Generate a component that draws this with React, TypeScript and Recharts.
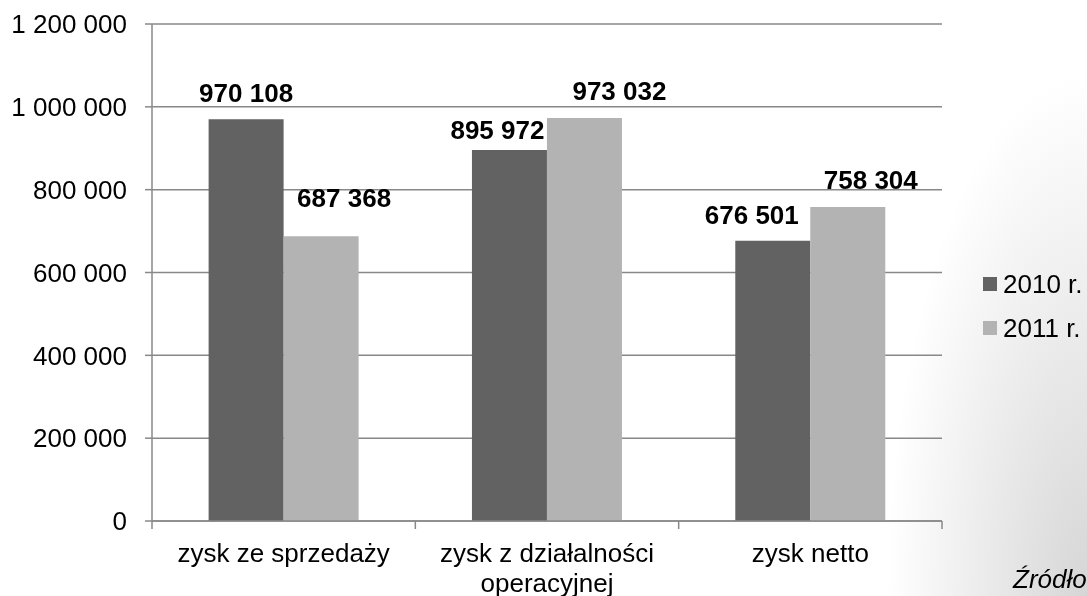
import React from 'react';
import { BarChart, Bar, XAxis, YAxis, CartesianGrid, Legend, LabelList } from 'recharts';

const categories = ['zysk ze sprzedaży', 'zysk z działalności operacyjnej', 'zysk netto'];
const values2010 = [970108, 895972, 676501];
const values2011 = [687368, 973032, 758304];
const seriesNames = ['2010 r.', '2011 r.'];
const yTicks = [0, 200000, 400000, 600000, 800000, 1000000, 1200000];
const sourceLabel = 'Źródło';

const data = categories.map((c, i) => ({ name: c, v2010: values2010[i], v2011: values2011[i] }));

const W = 1087;
const H = 596;
const MARGIN = { top: 24, right: 145, bottom: 0, left: 0 };
const Y_AXIS_W = 152;
const X_AXIS_H = 75;
const PLOT_W = W - MARGIN.right - Y_AXIS_W;
const BAND = PLOT_W / categories.length;
const AXIS_Y = H - X_AXIS_H;
const FONT = '"Liberation Sans", Arial, sans-serif';
const GRID = '#888888';
const COLORS = ['#626262', '#b3b3b3'];
const X_FONT_SIZE = 26;
const X_WRAP_W = 240;

// style-only label nudges (relative to bar centre / top) to match the reference placement
const LABEL_STYLE: Record<string, { dx: number[]; gap: number[] }> = {
  v2010: { dx: [0, -12, -21], gap: [17, 11, 17] },
  v2011: { dx: [23, 35, 23], gap: [29, 18, 18] },
};

const fmt = (v: number) => String(v).replace(/\B(?=(\d{3})+(?!\d))/g, ' ');

let ctx: CanvasRenderingContext2D | null = null;
const measure = (s: string) => {
  if (!ctx && typeof document !== 'undefined') {
    ctx = document.createElement('canvas').getContext('2d');
  }
  if (!ctx) return s.length * X_FONT_SIZE * 0.5;
  ctx.font = `${X_FONT_SIZE}px "Liberation Sans", Arial, sans-serif`;
  return ctx.measureText(s).width;
};

const wrap = (s: string, maxW: number) => {
  const words = s.split(' ');
  const lines: string[] = [];
  let cur = '';
  words.forEach((w) => {
    const test = cur ? cur + ' ' + w : w;
    if (cur && measure(test) > maxW) {
      lines.push(cur);
      cur = w;
    } else {
      cur = test;
    }
  });
  if (cur) lines.push(cur);
  return lines;
};

const makeLabel = (key: string) => (props: any) => {
  const { x, y, width, value, index } = props;
  const s = LABEL_STYLE[key];
  return (
    <text
      x={Number(x) + Number(width) / 2 + s.dx[index]}
      y={Number(y) - s.gap[index]}
      textAnchor="middle"
      fontWeight="bold"
      fontSize={26}
      fill="#000"
      fontFamily={FONT}
    >
      {fmt(Number(value))}
    </text>
  );
};

const XTick = (props: any) => {
  const { x, payload, index } = props;
  const half = BAND / 2;
  const lines = wrap(String(payload.value), X_WRAP_W);
  return (
    <g>
      <line x1={x - half} x2={x - half} y1={AXIS_Y} y2={AXIS_Y + 8} stroke={GRID} strokeWidth={1.5} />
      {index === categories.length - 1 && (
        <line x1={x + half} x2={x + half} y1={AXIS_Y} y2={AXIS_Y + 8} stroke={GRID} strokeWidth={1.5} />
      )}
      <text x={x} y={AXIS_Y + 41} textAnchor="middle" fontSize={X_FONT_SIZE} fontFamily={FONT} fill="#000">
        {lines.map((l, i) => (
          <tspan key={i} x={x} dy={i === 0 ? 0 : 30}>
            {l}
          </tspan>
        ))}
      </text>
    </g>
  );
};

const LegendContent = () => (
  <div style={{ fontFamily: FONT }}>
    {seriesNames.map((n, i) => (
      <div key={n} style={{ display: 'flex', alignItems: 'center', height: 44, whiteSpace: 'nowrap' }}>
        <span style={{ display: 'inline-block', width: 14, height: 14, background: COLORS[i], marginRight: 6 }} />
        <span style={{ fontSize: 26, color: '#000', lineHeight: '30px' }}>{n}</span>
      </div>
    ))}
  </div>
);

export default function App() {
  return (
    <div
      style={{
        position: 'fixed',
        left: 0,
        top: 0,
        width: W,
        height: H,
        overflow: 'hidden',
        background: 'radial-gradient(ellipse 200px 520px at 100% 100%, #d6d6d6 0%, #ffffff 100%)',
      }}
    >
      <BarChart width={W} height={H} data={data} margin={MARGIN} barCategoryGap="21.5%" barGap={0}>
        <CartesianGrid vertical={false} stroke={GRID} strokeWidth={1.5} />
        <XAxis
          dataKey="name"
          height={X_AXIS_H}
          axisLine={{ stroke: GRID, strokeWidth: 1.5 }}
          tickLine={false}
          tick={XTick}
          interval={0}
        />
        <YAxis
          width={Y_AXIS_W}
          domain={[0, 1200000]}
          ticks={yTicks}
          tickFormatter={fmt}
          axisLine={{ stroke: GRID, strokeWidth: 1.5 }}
          tickLine={{ stroke: GRID, strokeWidth: 1.5 }}
          tickSize={7}
          tickMargin={18}
          tick={{ fontSize: 26, fill: '#000', fontFamily: FONT }}
          interval={0}
        />
        <Legend
          layout="vertical"
          align="center"
          verticalAlign="middle"
          wrapperStyle={{ left: 983, top: 262, width: 104 }}
          content={LegendContent}
        />
        <Bar dataKey="v2010" name={seriesNames[0]} fill={COLORS[0]} isAnimationActive={false}>
          <LabelList dataKey="v2010" content={makeLabel('v2010')} />
        </Bar>
        <Bar dataKey="v2011" name={seriesNames[1]} fill={COLORS[1]} isAnimationActive={false}>
          <LabelList dataKey="v2011" content={makeLabel('v2011')} />
        </Bar>
      </BarChart>
      <div
        style={{
          position: 'absolute',
          left: 1013,
          top: 564,
          fontSize: 26,
          lineHeight: '30px',
          fontStyle: 'italic',
          fontFamily: FONT,
          whiteSpace: 'nowrap',
          color: '#000',
        }}
      >
        {sourceLabel}
      </div>
    </div>
  );
}
